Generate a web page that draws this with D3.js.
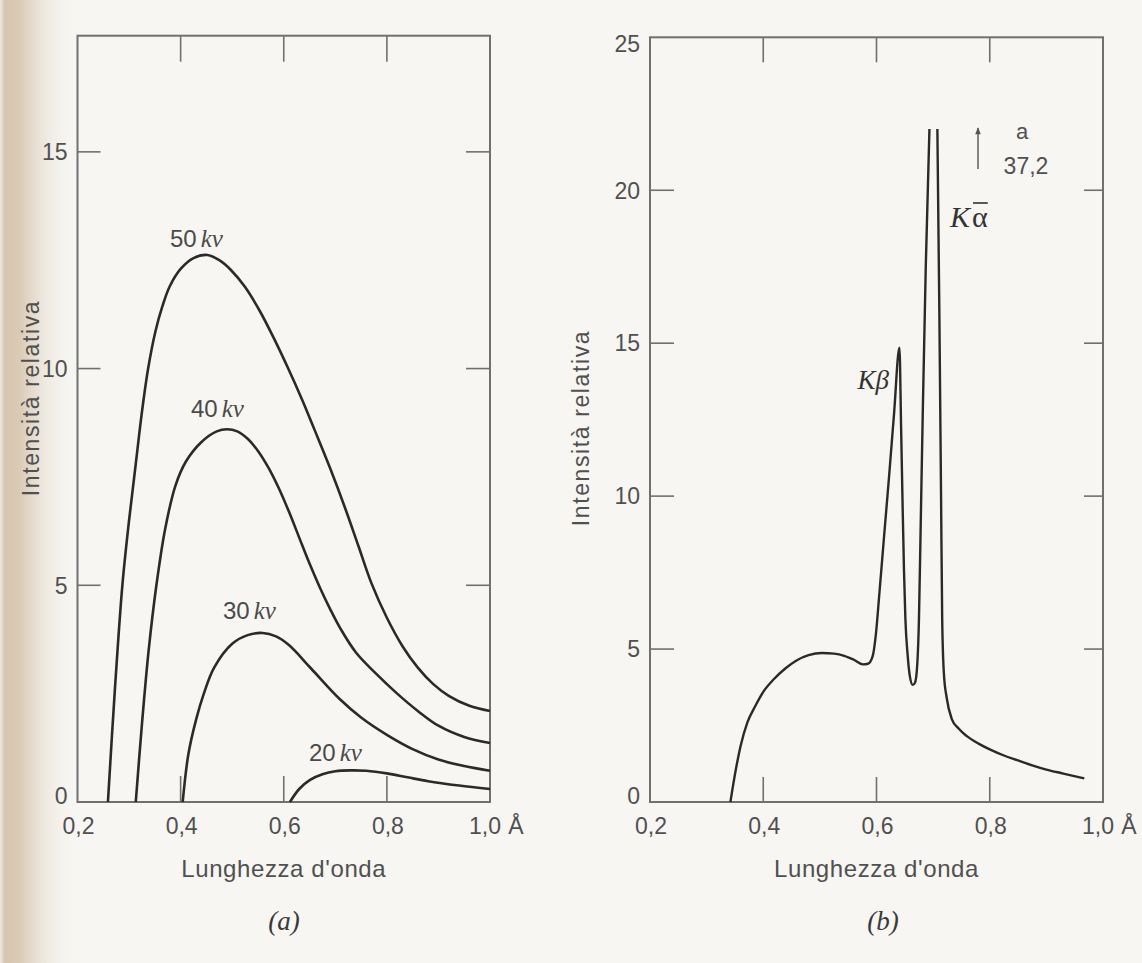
<!DOCTYPE html>
<html><head><meta charset="utf-8">
<script src="https://cdn.jsdelivr.net/npm/d3@7"></script>
<style>html,body{margin:0;padding:0;background:#f7f6f2;} svg{display:block}</style>
</head><body>
<svg id="c" width="1142" height="963"></svg>
<script>
// ---------- DATA ----------
const xTickValues = [0.2, 0.4, 0.6, 0.8, 1.0];
const xTickLabels = ["0,2", "0,4", "0,6", "0,8", "1,0"];
const yTickValuesA = [0, 5, 10, 15];
const yTickValuesB = [0, 5, 10, 15, 20, 25];
const xTitle = "Lunghezza d'onda";
const yTitle = "Intensità relativa";
const unitLabel = "Å";
const panelLabels = ["(a)", "(b)"];

// panel (a): continuous spectra at different tube voltages
const voltages = ["50", "40", "30", "20"];
const lam50 = [0.259,0.272,0.287,0.300,0.313,0.325,0.337,0.351,0.365,0.379,0.400,0.425,0.452,0.475,0.497,0.525,0.553,0.580,0.608,0.635,0.660,0.690,0.720,0.745,0.770,0.800,0.830,0.860,0.890,0.920,0.960,1.000];
const int50 = [0,2.5,5.0,6.5,7.8,9.0,10.0,10.85,11.45,11.9,12.3,12.55,12.62,12.5,12.28,11.88,11.34,10.72,10.02,9.3,8.58,7.7,6.75,5.9,5.05,4.25,3.6,3.1,2.72,2.45,2.22,2.1];
const lam40 = [0.313,0.325,0.338,0.353,0.370,0.390,0.410,0.440,0.470,0.490,0.510,0.530,0.550,0.570,0.590,0.610,0.630,0.650,0.670,0.690,0.710,0.740,0.780,0.820,0.860,0.900,0.950,1.000];
const int40 = [0,1.8,3.5,5.0,6.3,7.3,7.85,8.3,8.55,8.6,8.55,8.38,8.1,7.72,7.25,6.7,6.1,5.5,4.95,4.45,4.0,3.45,2.95,2.5,2.1,1.76,1.5,1.36];
const lam30 = [0.404,0.415,0.430,0.445,0.465,0.500,0.530,0.559,0.585,0.610,0.653,0.709,0.750,0.800,0.850,0.900,0.950,1.000];
const int30 = [0,1.1,1.9,2.5,3.1,3.65,3.85,3.9,3.82,3.62,3.08,2.37,1.95,1.55,1.22,0.98,0.83,0.72];
const lam20 = [0.612,0.630,0.651,0.675,0.700,0.730,0.760,0.800,0.840,0.880,0.940,1.000];
const int20 = [0,0.3,0.51,0.64,0.71,0.73,0.72,0.66,0.57,0.48,0.38,0.3];

// panel (b): spectrum with characteristic lines (Kα peak cut off at 22, true value 37,2)
const lamB1 = [0.342,0.350,0.360,0.372,0.386,0.400,0.419,0.440,0.458,0.480,0.504,0.525,0.543,0.560,0.576,0.585,0.593,0.599,0.605,0.613,0.622,0.631,0.6405,0.6435,0.646,0.6485,0.651,0.655,0.659,0.664,0.668,0.672,0.675,0.678,0.682,0.687,0.6935];
const intB1 = [0,0.9,1.83,2.6,3.14,3.6,4.02,4.38,4.62,4.8,4.87,4.85,4.78,4.65,4.5,4.52,4.75,5.5,6.8,8.6,10.6,12.7,14.85,12.2,9.8,7.6,6.0,4.8,4.1,3.83,3.9,4.5,6.0,9.0,13.0,17.5,22.0];
const lamB2 = [0.7075,0.711,0.714,0.716,0.719,0.724,0.733,0.745,0.759,0.781,0.800,0.825,0.850,0.875,0.900,0.930,0.967];
const intB2 = [22.0,16.0,10.0,6.0,4.2,3.4,2.71,2.4,2.16,1.9,1.72,1.52,1.36,1.2,1.06,0.93,0.77];
const kAlphaTrue = "37,2";
const kAlphaNote = "a";

// ---------- DRAW ----------
const svg = d3.select("#c");
const W = 1142, H = 963;
const defs = svg.append("defs");
const g = defs.append("linearGradient").attr("id","bind").attr("x1","0").attr("x2","1").attr("y1","0").attr("y2","0");
[["0%","#eeebe6",1],["6%","#d6c5ae",1],["25%","#dacbb7",1],["55%","#ebe4da",0.8],["100%","#f7f6f2",0]].forEach(s=>g.append("stop").attr("offset",s[0]).attr("stop-color",s[1]).attr("stop-opacity",s[2]));
svg.append("rect").attr("width",W).attr("height",H).attr("fill","#f7f6f2");
svg.append("rect").attr("x",0).attr("y",0).attr("width",80).attr("height",H).attr("fill","url(#bind)");
defs.append("marker").attr("id","arr").attr("viewBox","0 0 10 10").attr("refX",9).attr("refY",5)
  .attr("markerWidth",9).attr("markerHeight",7).attr("markerUnits","userSpaceOnUse").attr("orient","auto")
  .append("path").attr("d","M0,1 L10,5 L0,9 Z").attr("fill","#555");

const FRAME = "#707070", INK = "#2a2a2a", TXT = "#505050";
const sans = "'Liberation Sans', Arial, sans-serif";
const serif = "'Liberation Serif', 'Times New Roman', serif";

function panel(opts){
  const x = d3.scaleLinear().domain([0.2,1.0]).range([opts.x0, opts.x1]);
  const y = d3.scaleLinear().domain([0, opts.ymax]).range([opts.yb, opts.yt]);
  const p = svg.append("g");
  const innerX = xTickValues.slice(1,-1);
  p.selectAll(null).data(innerX).join("line")
    .attr("x1",d=>x(d)).attr("x2",d=>x(d)).attr("y1",opts.yb).attr("y2",opts.yb-opts.tx)
    .attr("stroke",FRAME).attr("stroke-width",1.6);
  p.selectAll(null).data(innerX).join("line")
    .attr("x1",d=>x(d)).attr("x2",d=>x(d)).attr("y1",opts.yt).attr("y2",opts.yt+opts.tx)
    .attr("stroke",FRAME).attr("stroke-width",1.6);
  const innerY = opts.yticks.filter(v=>v>0 && v<opts.ymax-0.5);
  p.selectAll(null).data(innerY).join("line")
    .attr("x1",opts.x0).attr("x2",opts.x0+opts.tyl).attr("y1",d=>y(d)).attr("y2",d=>y(d))
    .attr("stroke",FRAME).attr("stroke-width",1.6);
  p.selectAll(null).data(innerY).join("line")
    .attr("x1",opts.x1).attr("x2",opts.x1-opts.tyr).attr("y1",d=>y(d)).attr("y2",d=>y(d))
    .attr("stroke",FRAME).attr("stroke-width",1.6);
  p.append("rect").attr("x",opts.x0).attr("y",opts.yt).attr("width",opts.x1-opts.x0).attr("height",opts.yb-opts.yt)
    .attr("fill","none").attr("stroke",FRAME).attr("stroke-width",2);
  p.selectAll(null).data(opts.yticks).join("text")
    .attr("x",opts.x0-10).attr("y",d=>y(d) + (d===0 ? -6 : (d===opts.ymax ? 6 : 0)))
    .attr("dy","0.36em").attr("text-anchor","end")
    .attr("font-family",sans).attr("font-size",23).attr("fill",TXT).text(d=>d);
  p.selectAll(null).data(xTickValues).join("text")
    .attr("x",(d,i)=>x(d) + (i===xTickValues.length-1 ? -5 : 1)).attr("y",opts.yb+32)
    .attr("text-anchor","middle").attr("font-family",sans).attr("font-size",23).attr("fill",TXT)
    .text((d,i)=>xTickLabels[i]);
  p.append("text").attr("x",x(1.0)+26).attr("y",opts.yb+32).attr("text-anchor","middle")
    .attr("font-family",sans).attr("font-size",23).attr("fill",TXT).text(unitLabel);
  p.append("text").attr("x",(opts.x0+opts.x1)/2).attr("y",opts.yb+75).attr("text-anchor","middle")
    .attr("font-family",sans).attr("font-size",24).attr("letter-spacing",0.6).attr("fill",TXT).text(xTitle);
  p.append("text").attr("transform",`translate(${opts.ytx},${opts.yty}) rotate(-90)`).attr("text-anchor","middle")
    .attr("dy","0.35em").attr("font-family",sans).attr("font-size",23).attr("letter-spacing",1.6).attr("fill",TXT).text(yTitle);
  p.append("text").attr("x",opts.plx).attr("y",930).attr("text-anchor","middle")
    .attr("font-family",serif).attr("font-style","italic").attr("font-size",27).attr("fill","#3a3a3a").text(opts.plabel);
  return {x,y,p};
}

const A = panel({x0:77.5, x1:490, yt:35.7, yb:802, ymax:17.68, yticks:yTickValuesA, tx:26, tyl:23, tyr:24,
                 ytx:31, yty:398, plx:284, plabel:panelLabels[0]});
const B = panel({x0:650, x1:1103, yt:37.3, yb:802, ymax:25, yticks:yTickValuesB, tx:25, tyl:24, tyr:19,
                 ytx:581, yty:428, plx:883, plabel:panelLabels[1]});

function zip(l, v){ return l.map((d,i)=>({x:d, y:v[i]})); }
const lineA = d3.line().x(d=>A.x(d.x)).y(d=>A.y(d.y)).curve(d3.curveCatmullRom.alpha(0.5));
const curvesA = [zip(lam50,int50), zip(lam40,int40), zip(lam30,int30), zip(lam20,int20)];
A.p.selectAll(null).data(curvesA).join("path").attr("d",lineA)
  .attr("fill","none").attr("stroke",INK).attr("stroke-width",2.6).attr("stroke-linejoin","round");

const labelPos = [[170,247],[191,417],[223,619],[309,761]];
voltages.forEach((v,i)=>{
  const t = A.p.append("text").attr("x",labelPos[i][0]).attr("y",labelPos[i][1]).attr("fill","#4a4a4a");
  t.append("tspan").attr("font-family",sans).attr("font-size",24).text(v);
  t.append("tspan").attr("font-family",serif).attr("font-style","italic").attr("font-size",25).attr("dx",4).text("kv");
});

const lineB = d3.line().x(d=>B.x(d.x)).y(d=>B.y(d.y)).curve(d3.curveMonotoneX);
[zip(lamB1,intB1), zip(lamB2,intB2)].forEach(seg=>{
  B.p.append("path").attr("d",lineB(seg)).attr("fill","none").attr("stroke",INK)
    .attr("stroke-width",2.4).attr("stroke-linejoin","round");
});

const kb = B.p.append("text").attr("x",889).attr("y",389).attr("text-anchor","end")
  .attr("font-family",serif).attr("font-style","italic").attr("font-size",27).attr("fill","#333");
kb.append("tspan").text("K"); kb.append("tspan").text("β");
const ka = B.p.append("text").attr("x",950).attr("y",227)
  .attr("font-family",serif).attr("font-size",30).attr("fill","#333");
ka.append("tspan").attr("font-style","italic").text("K"); ka.append("tspan").attr("dx",2).text("α");
const ext = ka.node().getExtentOfChar(1);
B.p.append("line").attr("x1",ext.x+1).attr("x2",ext.x+ext.width).attr("y1",203).attr("y2",203)
  .attr("stroke","#333").attr("stroke-width",1.6);
B.p.append("line").attr("x1",978).attr("x2",978).attr("y1",169).attr("y2",128)
  .attr("stroke","#555").attr("stroke-width",1.4).attr("marker-end","url(#arr)");
B.p.append("text").attr("x",1022).attr("y",139).attr("text-anchor","middle").attr("font-family",sans)
  .attr("font-size",22).attr("fill",TXT).text(kAlphaNote);
B.p.append("text").attr("x",1026).attr("y",174).attr("text-anchor","middle").attr("font-family",sans)
  .attr("font-size",23).attr("fill",TXT).text(kAlphaTrue);
</script>
</body></html>
